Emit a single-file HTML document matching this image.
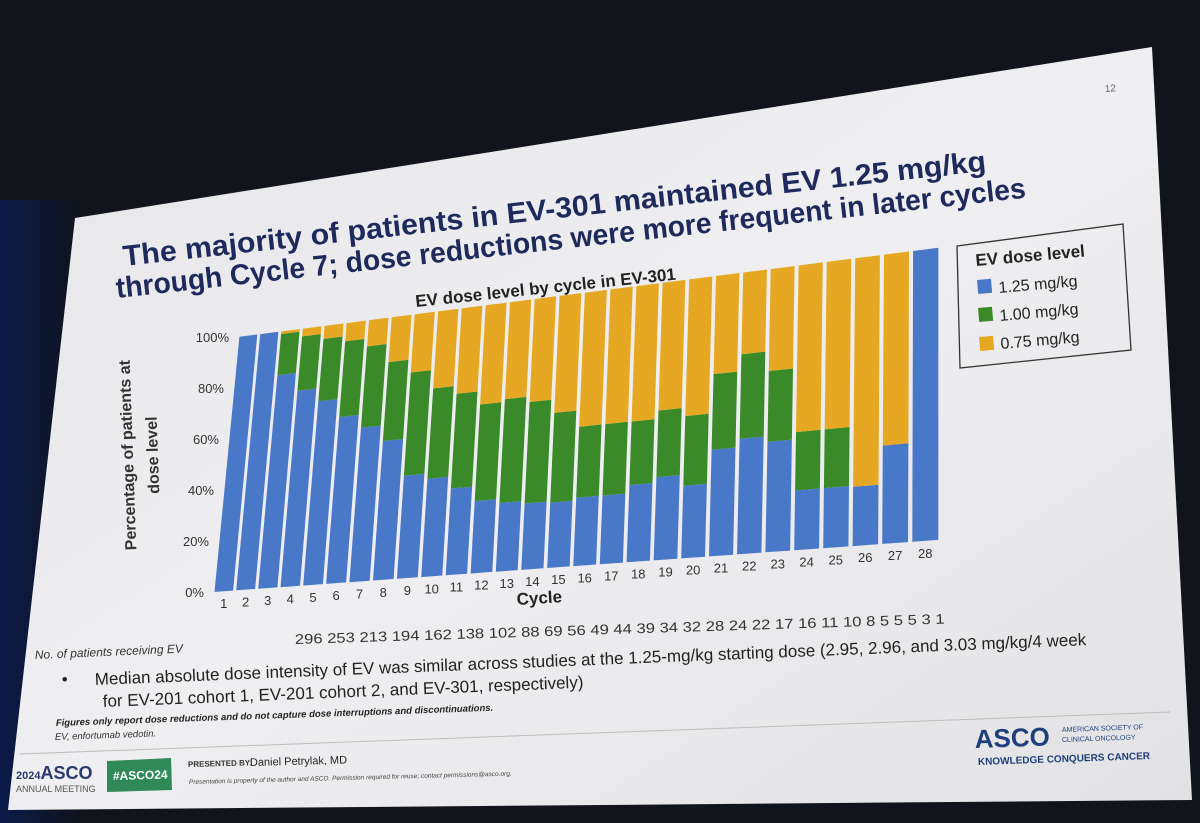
<!DOCTYPE html>
<html><head><meta charset="utf-8"><style>
html,body{margin:0;padding:0;background:#14161d;}
svg{display:block;font-family:"Liberation Sans",Arial,sans-serif;}
</style></head><body>
<svg id="s" width="1200" height="823" viewBox="0 0 1200 823">
<defs>
<linearGradient id="bg" x1="0" y1="0" x2="1" y2="1">
<stop offset="0" stop-color="#e6e6ea"/><stop offset="0.5" stop-color="#efeff1"/><stop offset="1" stop-color="#e2e2e4"/>
</linearGradient>
<linearGradient id="curtain" x1="0" y1="0" x2="1" y2="0">
<stop offset="0" stop-color="#0c1a4a"/><stop offset="1" stop-color="#10131c"/>
</linearGradient>
</defs>
<rect x="0" y="0" width="1200" height="823" fill="#12141b"/>
<rect x="0" y="200" width="80" height="623" fill="url(#curtain)"/>
<polygon points="75,218 1152,47 1192,800 8,810" fill="url(#bg)"/>
<text x="1105" y="92" font-size="10" fill="#666" transform="rotate(-4 1105 92)">12</text>
<g fill="#1f2a5c" font-weight="bold" font-size="29">
<text x="124" y="266" textLength="868" lengthAdjust="spacingAndGlyphs" transform="rotate(-6.3 124 266)">The majority of patients in EV-301 maintained EV 1.25 mg/kg</text>
<text x="117" y="298" textLength="915" lengthAdjust="spacingAndGlyphs" transform="rotate(-6.3 117 298)">through Cycle 7; dose reductions were more frequent in later cycles</text>
</g>
<text x="416" y="307" font-size="17" font-weight="bold" fill="#222" transform="rotate(-6 416 307)">EV dose level by cycle in EV-301</text>
<g font-size="16" font-weight="bold" fill="#333">
<text x="0" y="0" text-anchor="middle" transform="translate(133,455) rotate(-92)">Percentage of patients at</text>
<text x="0" y="0" text-anchor="middle" transform="translate(158,455) rotate(-92)">dose level</text>
</g>
<g id="chart"></g>
<text x="517" y="605" font-size="17" font-weight="bold" fill="#222" transform="rotate(-3.5 517 605)">Cycle</text>
<text id="counts" x="295" y="644" font-size="14" fill="#333" textLength="650" lengthAdjust="spacingAndGlyphs" transform="rotate(-1.8 295 644)"></text>
<text x="35" y="659" font-size="12" font-style="italic" fill="#333" transform="rotate(-2.5 35 659)">No. of patients receiving EV</text>
<g>
<polygon points="957,246 1123,224 1131,350 960,368" fill="none" stroke="#333" stroke-width="1.3"/>
<text x="976" y="266" font-size="17" font-weight="bold" fill="#222" transform="rotate(-5 976 266)">EV dose level</text>
<rect x="977" y="280" width="14" height="14" fill="#4a78c8" transform="rotate(-5 977 280)"/>
<text x="999" y="293" font-size="16" fill="#222" transform="rotate(-5 999 293)">1.25 mg/kg</text>
<rect x="978" y="308" width="14" height="14" fill="#3a8a2a" transform="rotate(-5 978 308)"/>
<text x="1000" y="321" font-size="16" fill="#222" transform="rotate(-5 1000 321)">1.00 mg/kg</text>
<rect x="979" y="337" width="14" height="14" fill="#e6a722" transform="rotate(-5 979 337)"/>
<text x="1001" y="349" font-size="16" fill="#222" transform="rotate(-5 1001 349)">0.75 mg/kg</text>
</g>
<g fill="#222" font-size="17">
<text x="62" y="685" transform="rotate(-2.3 62 685)">•</text>
<text x="95" y="685" transform="rotate(-2.3 95 685)">Median absolute dose intensity of EV was similar across studies at the 1.25-mg/kg starting dose (2.95, 2.96, and 3.03 mg/kg/4 week</text>
<text x="103" y="707" transform="rotate(-2.3 103 707)">for EV-201 cohort 1, EV-201 cohort 2, and EV-301, respectively)</text>
</g>
<text x="56" y="726" font-size="9.5" font-weight="bold" font-style="italic" fill="#222" transform="rotate(-2 56 726)">Figures only report dose reductions and do not capture dose interruptions and discontinuations.</text>
<text x="55" y="740" font-size="9.5" font-style="italic" fill="#333" transform="rotate(-2 55 740)">EV, enfortumab vedotin.</text>
<line x1="20" y1="754" x2="1170" y2="712" stroke="#bbb" stroke-width="1"/>
<g>
<text x="16" y="779" font-size="15" font-weight="bold" fill="#2a3a6a"><tspan font-size="11">2024</tspan><tspan font-size="18">ASCO</tspan></text>
<text x="16" y="792" font-size="9" fill="#555">ANNUAL MEETING</text>
<polygon points="107,761 171,758 172,790 107,792" fill="#2f8a57"/>
<text x="113" y="780" font-size="12" font-weight="bold" fill="#fff" transform="rotate(-1.5 113 780)">#ASCO24</text>
<text x="188" y="767" font-size="8" font-weight="bold" fill="#333" transform="rotate(-1.5 188 767)">PRESENTED BY:</text>
<text x="250" y="766" font-size="11" fill="#222" transform="rotate(-1.5 250 766)">Daniel Petrylak, MD</text>
<text x="189" y="784" font-size="6.5" font-style="italic" fill="#444" transform="rotate(-1.5 189 784)">Presentation is property of the author and ASCO. Permission required for reuse; contact permissions@asco.org.</text>
<text x="975" y="748" font-size="26" font-weight="bold" fill="#1f3f7a" transform="rotate(-2 975 748)">ASCO</text>
<text x="1062" y="732" font-size="7" fill="#1f3f7a" transform="rotate(-2 1062 732)">AMERICAN SOCIETY OF</text>
<text x="1062" y="742" font-size="7" fill="#1f3f7a" transform="rotate(-2 1062 742)">CLINICAL ONCOLOGY</text>
<text x="978" y="765" font-size="10" font-weight="bold" fill="#1f3f7a" transform="rotate(-2 978 765)">KNOWLEDGE CONQUERS CANCER</text>
</g>
</svg>
<script>
const cycles=[1,2,3,4,5,6,7,8,9,10,11,12,13,14,15,16,17,18,19,20,21,22,23,24,25,26,27,28];
const pct125=[100,100,83,76,71,64,59,53,39,37,32.5,27,25.5,24.5,24,25,25,28,30,26,38,41,39,21,21,20.6,34,100];
const pct100=[0,0,16,21,24,29,31,30,39,34,35.5,36,38.5,37.5,33,26,26,23,24,25,27,30,25,20.5,20.5,0,0,0];
const patients=[296,253,213,194,162,138,102,88,69,56,49,44,39,34,32,28,24,22,17,16,11,10,8,5,5,5,3,1];
const yTicks=[0,20,40,60,80,100];
const yTickLabels=["0%","20%","40%","60%","80%","100%"];
const NS="http://www.w3.org/2000/svg";
const N=cycles.length;
function xb(u){return 213+21.5*u+0.16*u*u;}
function P(u,v){
  const x0=xb(u);
  const yb=592-(x0-213)*0.0718, yt=337-(x0-213)*0.123;
  const lean=25*(1-u/N);
  return [x0+lean*v/100, yb+(yt-yb)*v/100];
}
const g=document.getElementById('chart');
function poly(u0,u1,v0,v1,fill,name){
  const pts=[P(u0,v0),P(u1,v0),P(u1,v1),P(u0,v1)].map(p=>p[0].toFixed(1)+','+p[1].toFixed(1)).join(' ');
  const el=document.createElementNS(NS,'polygon');
  el.setAttribute('points',pts);el.setAttribute('fill',fill);
  
  
  g.appendChild(el);
}
for(let i=0;i<N;i++){
  const u0=i+0.07,u1=i+0.93;
  const b=pct125[i],gr=pct100[i];
  if(b>0)poly(u0,u1,0,b,'#4a78c8','bar-125-cycle-'+cycles[i]);
  if(gr>0)poly(u0,u1,b,b+gr,'#3a8a2a','bar-100-cycle-'+cycles[i]);
  if(b+gr<100)poly(u0,u1,b+gr,100,'#e6a722','bar-075-cycle-'+cycles[i]);
  const c=P(i+0.5,0);
  const t=document.createElementNS(NS,'text');
  t.setAttribute('x',c[0]);t.setAttribute('y',c[1]+17);
  t.setAttribute('text-anchor','middle');t.setAttribute('font-size','13');t.setAttribute('fill','#333');
  
  
  t.textContent=cycles[i];g.appendChild(t);
}
yTicks.forEach((v,k)=>{
  const p=P(0,v);
  const t=document.createElementNS(NS,'text');
  t.setAttribute('x',p[0]-9);t.setAttribute('y',p[1]+5);
  t.setAttribute('text-anchor','end');t.setAttribute('font-size','13');t.setAttribute('fill','#333');
  
  
  t.textContent=yTickLabels[k];g.appendChild(t);
});
document.getElementById('counts').textContent=patients.join(' ');
</script>
</body></html>
